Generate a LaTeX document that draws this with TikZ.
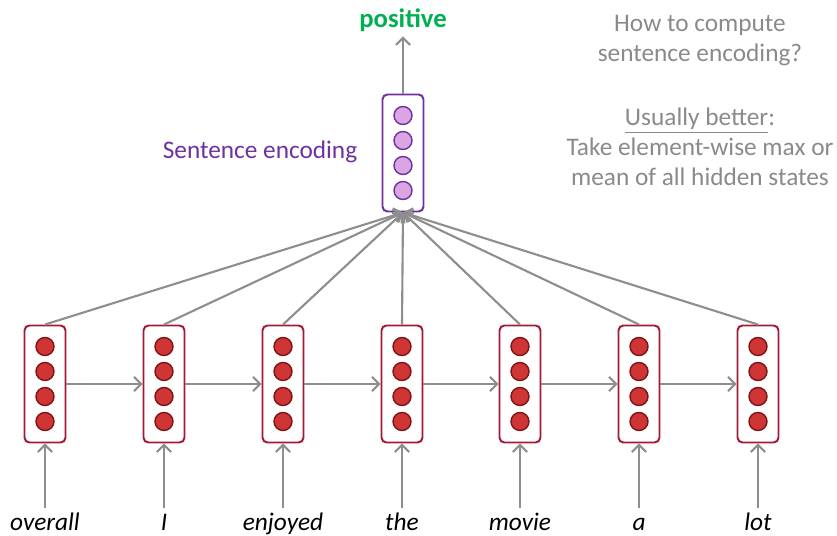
\documentclass[tikz,border=0pt]{standalone}
\usepackage{fontspec}
\setmainfont{Carlito}
\usetikzlibrary{arrows.meta}
\definecolor{boxred}{HTML}{A31A35}
\definecolor{dotred}{HTML}{CF3535}
\definecolor{dotedge}{HTML}{7E1416}
\definecolor{encpurple}{HTML}{7030A0}
\definecolor{dotpurple}{HTML}{D9A5E2}
\definecolor{arrgray}{HTML}{8E8E8E}
\definecolor{txtgray}{HTML}{8A8A8A}
\definecolor{posgreen}{HTML}{00B050}
\tikzstyle{hidden} = [draw=boxred, line width=1.4pt, rounded corners=3.5pt, fill=white, minimum width=1.025cm, minimum height=2.925cm]
\tikzstyle{encbox} = [draw=encpurple, line width=1.4pt, rounded corners=3.5pt, fill=white, minimum width=1.025cm, minimum height=2.925cm]
\tikzstyle{hdot} = [circle, draw=dotedge, fill=dotred, line width=1pt, minimum size=0.45cm, inner sep=0pt]
\tikzstyle{edot} = [circle, draw=encpurple, fill=dotpurple, line width=1pt, minimum size=0.45cm, inner sep=0pt]
\tikzstyle{word} = [font=\fontsize{18}{21}\selectfont\itshape, text height=1.6ex, text depth=0.3ex]
\tikzstyle{arr} = [draw=arrgray, line width=1.5pt, -{Straight Barb[length=5pt,width=10pt]}]

\begin{document}
\begin{tikzpicture}
                \useasboundingbox (0,0) rectangle (20.925,-13.4);
                \node[hidden] (h1) at (1.125,-9.6) {};
                \node[hidden] (h2) at (4.1,-9.6) {};
                \node[hidden] (h3) at (7.075,-9.6) {};
                \node[hidden] (h4) at (10.05,-9.6) {};
                \node[hidden] (h5) at (13.0,-9.6) {};
                \node[hidden] (h6) at (15.975,-9.6) {};
                \node[hidden] (h7) at (18.95,-9.6) {};
                \node[encbox] (enc) at (10.075,-3.825) {};
                \foreach \n in {1,...,7}
                    \foreach \dy [count=\i] in {0.9375,0.3125,-0.3125,-0.9375}
                        \node[hdot] (h\n-\i) at ([yshift=\dy cm]h\n.center) {};
                \foreach \dy [count=\i] in {0.9375,0.3125,-0.3125,-0.9375}
                    \node[edot] (enc-\i) at ([yshift=\dy cm]enc.center) {};

                \node[word] (w1) at (1.125,-13.16) {overall};
                \node[word] (w2) at (4.1,-13.16) {I};
                \node[word] (w3) at (7.075,-13.16) {enjoyed};
                \node[word] (w4) at (10.05,-13.16) {the};
                \node[word] (w5) at (13.0,-13.16) {movie};
                \node[word] (w6) at (15.975,-13.16) {a};
                \node[word] (w7) at (18.95,-13.16) {lot};

                \foreach \n in {1,...,7}
                    \draw[arr, shorten <=5pt] (w\n.north) -- (h\n.south);
                \draw[arr] (h1.east) -- (h2.west);
                \draw[arr] (h2.east) -- (h3.west);
                \draw[arr] (h3.east) -- (h4.west);
                \draw[arr] (h4.east) -- (h5.west);
                \draw[arr] (h5.east) -- (h6.west);
                \draw[arr] (h6.east) -- (h7.west);
                \foreach \n in {1,...,7}
                    \draw[arr] (h\n.north) -- (enc.south);

                \node[text=posgreen, font=\fontsize{19}{22}\selectfont\bfseries] (pos) at (10.075,-0.5) {positive};
                \draw[arr] (enc.north) -- (pos.south);
                \node[text=encpurple, font=\fontsize{18}{21}\selectfont] (enclabel) at (6.5,-3.8) {Sentence encoding};

                \node[text=txtgray, align=center, font=\fontsize{18}{21.3}\selectfont] (question) at (17.5,-1.025) {How to compute\\sentence encoding?};
                \node[text=txtgray, align=center, font=\fontsize{18}{21.3}\selectfont] (answer) at (17.5,-3.675) {\underline{Usually better}:\\Take element-wise max or\\mean of all hidden states};
\end{tikzpicture}
\end{document}
